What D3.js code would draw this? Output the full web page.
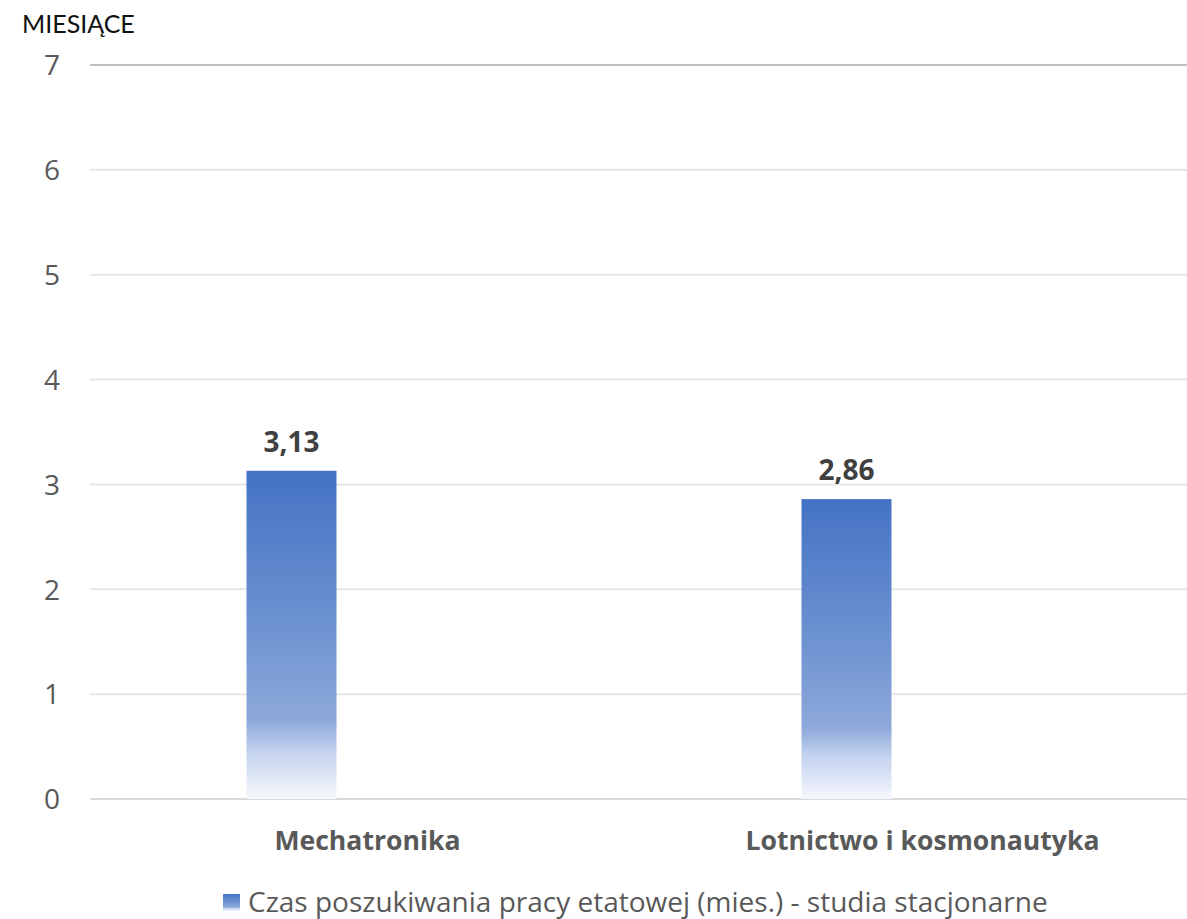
<!DOCTYPE html>
<html>
<head>
<meta charset="utf-8">
<script src="https://cdn.jsdelivr.net/npm/d3@7"></script>
<style>
  html, body { margin: 0; padding: 0; background: #fff; }
  svg { display: block; }
</style>
</head>
<body>
<svg id="chart" width="1187" height="919"></svg>
<script>
const categories = ["Mechatronika", "Lotnictwo i kosmonautyka"];
const values = [3.13, 2.86];
const valueLabels = ["3,13", "2,86"];
const yTicks = [0, 1, 2, 3, 4, 5, 6, 7];
const seriesName = "Czas poszukiwania pracy etatowej (mies.) - studia stacjonarne";
const axisTitle = "MIESIĄCE";

const svg = d3.select("#chart");
const font = "'Open Sans', 'Noto Sans', sans-serif";

const x = d3.scaleBand().domain(categories).range([90, 1200]);
const y = d3.scaleLinear().domain([0, 7]).range([799, 65]);
const barW = 90;
const barShift = -76; // bars sit left of the category centre in the original

const defs = svg.append("defs");
const grad = defs.append("linearGradient").attr("id", "barGrad")
  .attr("x1", 0).attr("y1", 0).attr("x2", 0).attr("y2", 1);
grad.append("stop").attr("offset", "0").attr("stop-color", "#4472C4");
grad.append("stop").attr("offset", "0.45").attr("stop-color", "#6B91D0");
grad.append("stop").attr("offset", "0.76").attr("stop-color", "#8DA8DA");
grad.append("stop").attr("offset", "0.86").attr("stop-color", "#C5D3EE");
grad.append("stop").attr("offset", "1").attr("stop-color", "#F5F8FD");

// gridlines
svg.append("g").selectAll("line").data(yTicks).join("line")
  .attr("x1", 90).attr("x2", 1200)
  .attr("y1", d => y(d)).attr("y2", d => y(d))
  .attr("stroke", d => d === 7 ? "#BFBFBF" : (d === 0 ? "#D9D9D9" : "#E6E6E6"))
  .attr("stroke-width", 2);

// y axis labels
const yAxis = d3.axisLeft(y).tickValues(yTicks).tickSize(0).tickPadding(0)
  .tickFormat(d3.format("d"));
const gy = svg.append("g").attr("transform", "translate(60,0)").call(yAxis);
gy.select(".domain").remove();
gy.selectAll("text").attr("font-family", font).attr("font-size", 28)
  .attr("fill", "#595959").attr("dy", "0.35em");

// bars
svg.append("g").selectAll("rect").data(categories).join("rect")
  .attr("x", (d) => x(d) + x.bandwidth() / 2 + barShift - barW / 2)
  .attr("width", barW)
  .attr("y", (d, i) => y(values[i]))
  .attr("height", (d, i) => y(0) - y(values[i]))
  .attr("fill", "url(#barGrad)");

// value labels
svg.append("g").selectAll("text").data(categories).join("text")
  .attr("x", d => x(d) + x.bandwidth() / 2 + barShift)
  .attr("y", (d, i) => y(values[i]) - 19)
  .attr("text-anchor", "middle")
  .attr("font-family", font).attr("font-weight", 700).attr("font-size", 28)
  .attr("fill", "#404040")
  .text((d, i) => valueLabels[i]);

// category labels
const xAxis = d3.axisBottom(x).tickSize(0).tickPadding(0);
const gx = svg.append("g").attr("transform", "translate(0,850)").call(xAxis);
gx.select(".domain").remove();
gx.selectAll("text").attr("font-family", font).attr("font-weight", 700)
  .attr("font-size", 26.6).attr("fill", "#595959").attr("dy", 0);

// axis title
svg.append("text").attr("x", 22).attr("y", 33)
  .attr("font-family", "Lato, 'Open Sans', sans-serif").attr("font-size", 25)
  .attr("fill", "#111").text(axisTitle);

// legend
const lg = svg.append("g");
lg.append("rect").attr("x", 223).attr("y", 894).attr("width", 17).attr("height", 17)
  .attr("fill", "url(#barGrad)");
lg.append("text").attr("x", 248).attr("y", 912)
  .attr("font-family", font).attr("font-size", 28).attr("fill", "#595959")
  .text(seriesName);
</script>
</body>
</html>
